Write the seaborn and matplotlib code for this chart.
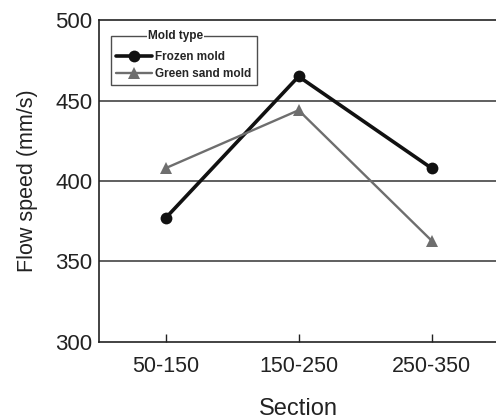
import matplotlib
matplotlib.use("Agg")
import matplotlib.pyplot as plt
import numpy as np
import pandas as pd
import seaborn as sns

# ── Data ─────────────────────────────────────────────────────────────────────
sections = ["50-150", "150-250", "250-350"]
frozen = [377, 465, 408]
green_sand = [408, 444, 363]
y_ticks = [300, 350, 400, 450, 500]

df = pd.DataFrame({
    "Section": sections * 2,
    "Flow speed": frozen + green_sand,
    "Mold type": ["Frozen mold"] * 3 + ["Green sand mold"] * 3,
})

sns.set_theme(style="white")
plt.rcParams["font.family"] = ["Liberation Sans", "DejaVu Sans"]

fig = plt.figure(figsize=(4.96, 4.2), dpi=100)
ax = fig.add_axes([0.2, 0.186, 0.804, 0.766])

palette = {"Frozen mold": "#111111", "Green sand mold": "#6e6e6e"}
markers = {"Frozen mold": "o", "Green sand mold": "^"}
sizes = {"Frozen mold": 2.6, "Green sand mold": 1.7}

sns.lineplot(
    data=df, x="Section", y="Flow speed", hue="Mold type", style="Mold type",
    palette=palette, markers=markers, dashes=False, size="Mold type",
    sizes=sizes, markersize=8.5, markeredgewidth=0, sort=False, ax=ax,
)

for yv in y_ticks[1:-1]:
    ax.axhline(yv, color="#444444", lw=1.2, zorder=0)

ax.set_xlim(-0.5, 2.5)
ax.set_ylim(300, 500)
ax.set_yticks(y_ticks)
ax.tick_params(axis="x", direction="in", length=6, width=1, colors="#222222",
               labelsize=15.5, pad=10, bottom=True)
ax.tick_params(axis="y", direction="in", length=0, labelsize=16, pad=5)
for lbl in ax.get_xticklabels() + ax.get_yticklabels():
    lbl.set_color("#222222")
for sp in ax.spines.values():
    sp.set_color("#222222")
    sp.set_linewidth(1.2)

ax.set_xlabel("Section", fontsize=17, labelpad=15, color="#222222")
ax.set_ylabel("Flow speed (mm/s)", fontsize=15.5, labelpad=12, color="#222222")

leg = ax.legend(
    title=" ", loc="upper left", bbox_to_anchor=(0.03, 0.95),
    borderaxespad=0, fontsize=8.5, title_fontsize=3, frameon=True,
    fancybox=False, edgecolor="#222222", handlelength=3.0, handletextpad=0.3,
    borderpad=0.45, labelspacing=0.45,
)
leg.get_frame().set_linewidth(1.0)
for t in leg.get_texts():
    t.set_fontweight("bold")

# legend title drawn over the top border of the frame
fig.canvas.draw()
bb = leg.get_frame().get_window_extent().transformed(fig.transFigure.inverted())
fig.text(bb.x0 + 37 / 496, bb.y1, "Mold type", fontsize=8.5, fontweight="bold",
         color="#222222", ha="left", va="center",
         bbox=dict(facecolor="white", edgecolor="none", pad=0.5))

fig.savefig("out.png", dpi=100)
